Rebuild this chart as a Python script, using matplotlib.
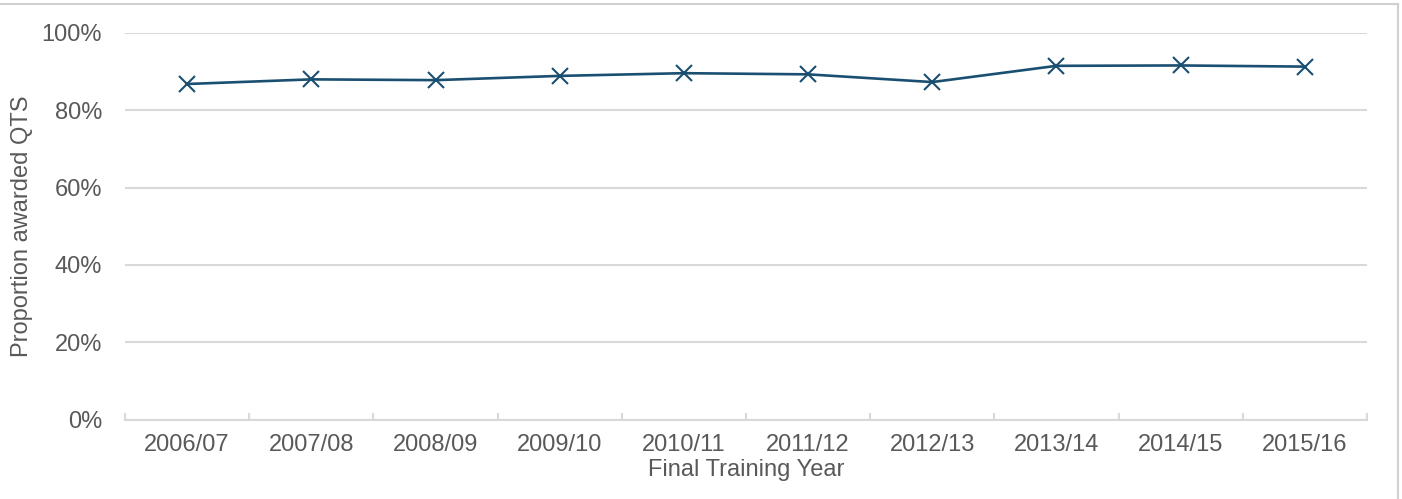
import matplotlib

matplotlib.use("Agg")
import matplotlib.pyplot as plt
from matplotlib.lines import Line2D
from matplotlib.ticker import PercentFormatter

years = ["2006/07", "2007/08", "2008/09", "2009/10", "2010/11",
         "2011/12", "2012/13", "2013/14", "2014/15", "2015/16"]
qts_share = [86.8, 88.0, 87.8, 88.9, 89.6, 89.3, 87.3, 91.5, 91.6, 91.3]

text_grey = "#595959"
line_grey = "#D9D9D9"
navy = "#1B4F72"

plt.rcParams["font.family"] = ["Liberation Sans", "DejaVu Sans"]

fig = plt.figure(figsize=(14.02, 4.99), dpi=100)
ax = fig.add_axes([0.0892, 0.1593, 0.8858, 0.7746])

x = range(len(years))
ax.plot(x, qts_share, color=navy, linewidth=1.9, marker="x",
        markersize=11.5, markeredgewidth=1.5, zorder=3)

ax.set_xlim(-0.5, len(years) - 0.5)
ax.set_ylim(0, 100)
ax.set_yticks(range(0, 101, 20))
ax.yaxis.set_major_formatter(PercentFormatter(decimals=0))
ax.set_xticks(list(x))
ax.set_xticklabels(years)
# category boundary ticks, pointing up into the plot like Excel
ax.set_xticks([i - 0.5 for i in range(len(years) + 1)], minor=True)

ax.grid(axis="y", color=line_grey, linewidth=1.5)
ax.set_axisbelow(True)
for side in ("top", "right", "left"):
    ax.spines[side].set_visible(False)
ax.spines["bottom"].set_color(line_grey)
ax.spines["bottom"].set_linewidth(1.5)

ax.tick_params(axis="x", which="major", length=0, pad=10.5,
               labelsize=17, labelcolor=text_grey)
ax.tick_params(axis="x", which="minor", direction="in", length=5,
               width=1.5, color=line_grey)
ax.tick_params(axis="y", length=0, pad=16.5, labelsize=17, labelcolor=text_grey)

ax.set_xlabel("Final Training Year", fontsize=17, color=text_grey, labelpad=2)
ax.set_ylabel("Proportion awarded QTS", fontsize=17, color=text_grey, labelpad=6.5)

# light frame along the top and right edges of the picture
fig.add_artist(Line2D([0, 0.997], [0.991, 0.991], transform=fig.transFigure,
                      color="#D0D0D0", linewidth=1.5))
fig.add_artist(Line2D([0.997, 0.997], [0, 0.991], transform=fig.transFigure,
                      color="#D0D0D0", linewidth=1.5))

fig.savefig("out.png", dpi=100)
